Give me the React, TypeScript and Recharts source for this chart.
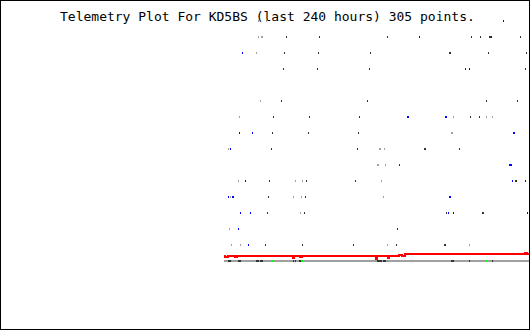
import React from 'react'
import { ComposedChart, XAxis, YAxis, Scatter, Line, ReferenceArea } from 'recharts'

// sample index 0..305 across the last 240 hours, one row per telemetry channel
const CHANNELS = 15
const title = 'Telemetry Plot For KD5BS (last 240 hours) 305 points.'

// sample indices per channel, split by marker colour
const darkHits: number[][] = [
  [],
  [62, 95, 163, 247, 256, 265, 266, 296],
  [60, 94, 146, 225, 226, 264, 302],
  [59, 93, 145, 241, 301],
  [],
  [57, 143, 262, 293],
  [49, 85, 135, 246, 255],
  [48, 84, 134],
  [47, 133, 200, 201, 235],
  [175],
  [45, 82, 131, 291, 292],
  [44, 81],
  [43, 80, 222, 258, 259],
  [173],
  [41, 78, 129, 172, 220, 221],
]

const grayHits: number[][] = [
  [34, 42],
  [34, 37, 38],
  [32],
  [],
  [],
  [36],
  [15, 229, 262, 268],
  [227, 228],
  [4, 155, 156, 160],
  [153, 154, 161],
  [14, 71, 78, 157],
  [6, 69, 77, 159],
  [76],
  [5],
  [7, 16, 163, 245],
]

const blueHits: number[][] = [
  [279],
  [195, 267],
  [18],
  [245],
  [],
  [],
  [183, 184, 221, 222],
  [15, 28, 289, 290],
  [6],
  [285, 286, 287],
  [21, 288, 301],
  [4, 8, 9, 225, 226],
  [16, 26, 224, 229, 303],
  [14],
  [24],
]

// level trace: value changes (sample index, reading)
const levelT = [0, 1, 4, 11, 13, 69, 70, 76, 78, 152, 153, 164, 165, 175, 178, 181, 301, 303, 305]
const levelV = [69, 68, 69, 68, 69, 67, 69, 68, 69, 66, 69, 67, 69, 70, 69, 71, 72, 71, 71]

// status strip: [from, to, state]
const statusSegments: [number, number, string][] = [
  [4, 7, 'busy'], [7, 8, 'ok'], [14, 17, 'busy'], [32, 35, 'busy'], [36, 39, 'busy'],
  [41, 42, 'ok'], [45, 46, 'ok'], [47, 50, 'ok'], [61, 62, 'ok'], [69, 70, 'busy'],
  [71, 72, 'busy'], [75, 77, 'busy'], [77, 79, 'ok'], [153, 158, 'busy'], [159, 162, 'busy'],
  [163, 164, 'ok'], [227, 230, 'busy'], [245, 246, 'busy'], [262, 263, 'ok'], [268, 269, 'busy'],
]

const stateColors: Record<string, string> = { idle: '#a0a0a0', busy: '#333333', ok: '#00ff00' }

const toPoints = (hits: number[][]) => hits.flatMap((ts, ch) => ts.map((t) => ({ t, ch })))
const levelData = levelT.map((t, i) => ({ t, v: levelV[i] }))

const dot = (color: string) => (props: any) => (
  <rect x={props.cx} y={props.cy - 1} width={1} height={2} fill={color} shapeRendering="crispEdges" />
)

export default function App() {
  return (
    <div style={{ position: 'absolute', left: 0, top: 0, width: 530, height: 330, background: '#fff' }}>
      <ComposedChart width={530} height={330} margin={{ top: 5, right: 1, bottom: 5, left: 224 }}>
        <XAxis type="number" dataKey="t" domain={[0, 305]} hide />
        <YAxis yAxisId="ch" type="number" dataKey="ch" domain={[-1, CHANNELS + 4]} reversed hide />
        <YAxis yAxisId="v" type="number" dataKey="v" domain={[0, 320]} hide />
        <ReferenceArea yAxisId="v" x1={0} x2={305} y1={63} y2={65} fill={stateColors.idle} fillOpacity={1} stroke="none" shapeRendering="crispEdges" />
        {statusSegments.map(([a, b, s]) => (
          <ReferenceArea key={a} yAxisId="v" x1={a} x2={b} y1={63} y2={65} fill={stateColors[s]} fillOpacity={1} stroke="none" shapeRendering="crispEdges" />
        ))}
        <Scatter yAxisId="ch" data={toPoints(grayHits)} shape={dot('#a0a0a0')} isAnimationActive={false} />
        <Scatter yAxisId="ch" data={toPoints(darkHits)} shape={dot('#333333')} isAnimationActive={false} />
        <Scatter yAxisId="ch" data={toPoints(blueHits)} shape={dot('#0000ff')} isAnimationActive={false} />
        <Line yAxisId="v" data={levelData} dataKey="v" type="stepAfter" stroke="#ff0000" strokeWidth={2} dot={false} activeDot={false} isAnimationActive={false} />
      </ComposedChart>
      <div
        style={{
          position: 'absolute', left: 60, top: 10, fontFamily: '"DejaVu Sans Mono", monospace',
          fontSize: 13, lineHeight: '13px', color: '#000', whiteSpace: 'pre',
        }}
      >
        {title}
      </div>
      <div style={{ position: 'absolute', inset: 0, border: '1px solid #000', pointerEvents: 'none' }} />
    </div>
  )
}
